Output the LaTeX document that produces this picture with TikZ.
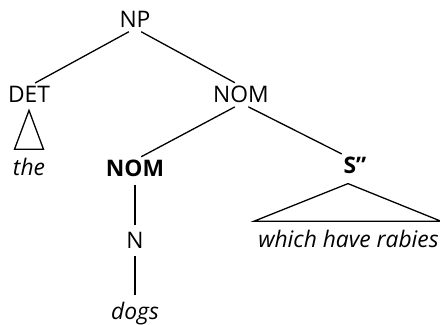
\documentclass[tikz,border=0pt]{standalone}
\usepackage{fontspec}
\setmainfont{Open Sans}
\usetikzlibrary{calc}

\tikzset{
  cat/.style={inner sep=0pt,anchor=base,font=\fontsize{11.4}{13}\selectfont},
  word/.style={cat,font=\fontsize{11.4}{13}\selectfont\itshape},
  head/.style={cat,font=\fontsize{11.4}{13}\selectfont\bfseries},
  branch/.style={line width=0.65pt,shorten <=3.5pt,shorten >=3.5pt},
  roof/.style={line width=0.65pt}
}

\begin{document}
\begin{tikzpicture}[x=0.5pt,y=-0.5pt]

% frame of the picture
\useasboundingbox (0,0) rectangle (440,325);

% ---------------- TOP ----------------
\node[cat] (np) at (135,28) {NP};
\node[cat] (det) at (29,103) {DET};
\node[cat] (nom) at (241,103) {NOM};

\draw[branch] (np.south) -- (det.north);
\draw[branch] (np.south) -- (nom.north);

% ---------------- DET ----------------
\node[word] (the) at (29,176) {the};
\draw[roof] ($(det.south)+(0,7)$) -- ($(the.north)+(-14.5,-9)$)
  -- ($(the.north)+(14.5,-9)$) -- cycle;

% ---------------- NOM ----------------
\node[head] (nomh) at (135,177) {NOM};
\node[head] (sbar) at (355,174) {S''};

\draw[branch] (nom.south) -- (nomh.north);
\draw[branch] ($(nom.south)+(1,0)$) -- ($(sbar.north)+(-7,0)$);

% head noun
\node[cat] (n) at (135,249) {N};
\node[word] (dogs) at (135,320) {dogs};
\draw[branch] (nomh.south) -- (n.north);
\draw[branch] (n.south) -- (dogs.north);

% relative clause
\node[word] (rel) at (348.5,248) {which have rabies};
\draw[roof] ($(sbar.south)+(-7,9)$) -- ($(rel.north west)+(-4,-9)$)
  -- ($(rel.north east)+(2,-9)$) -- cycle;

\end{tikzpicture}
\end{document}
